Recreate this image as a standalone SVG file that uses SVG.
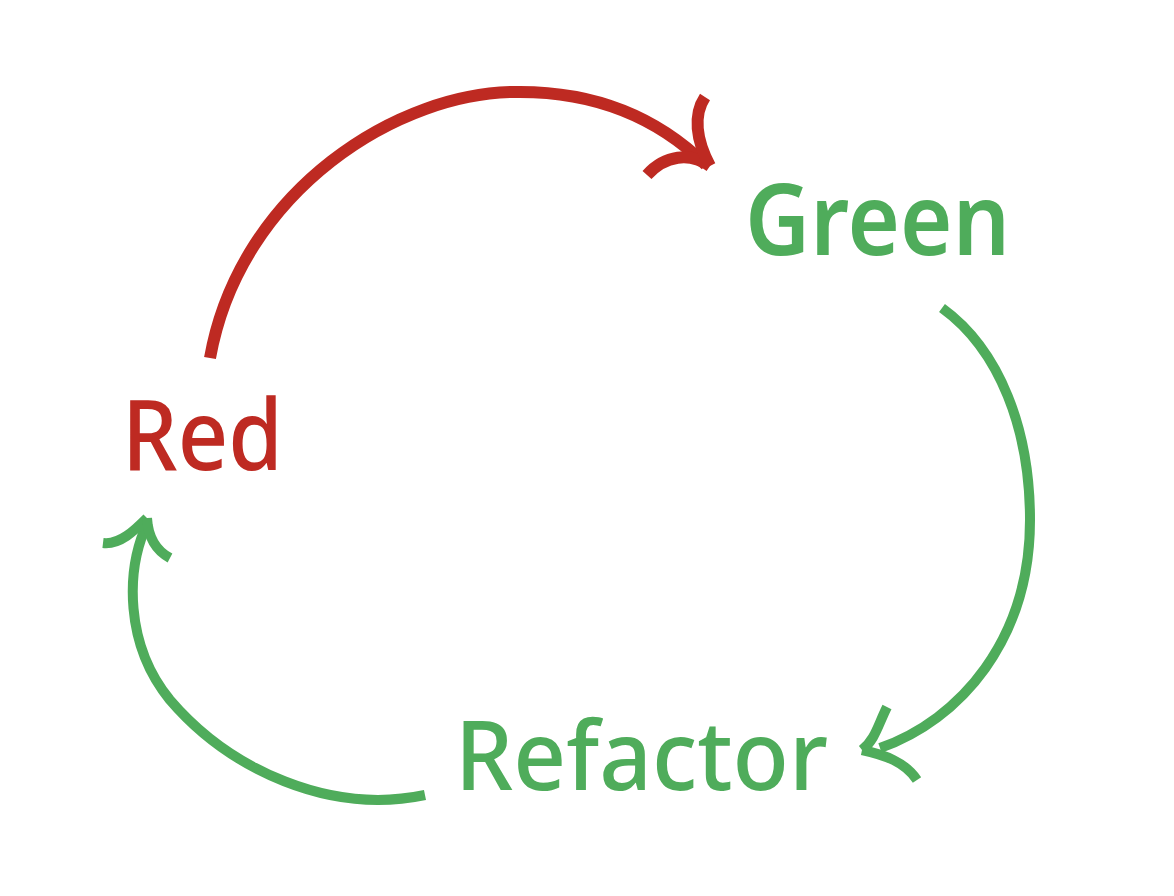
<svg xmlns="http://www.w3.org/2000/svg" width="1174" height="896" viewBox="0 0 1174 896">
<style>
.lbl{font-family:"Noto Sans","Open Sans","DejaVu Sans",sans-serif;}
.red{fill:#BE2A22}
.grn{fill:#4FAC5B}
.sr{fill:none;stroke:#BE2A22;stroke-width:12}
.sg{fill:none;stroke:#4FAC5B;stroke-width:10}
</style>
<rect width="1174" height="896" fill="#ffffff"/>
<g id="connectors">
<g id="red-to-green">
<path class="sr" d="M 210 358 C 240 190, 400 90, 520 92 C 600 92, 660 120, 706 165"/>
<path class="sr" d="M 647 175 C 665 155, 690 152, 710 166"/>
<path class="sr" d="M 705 97 C 693 115, 696 140, 710 166"/>
</g>
<g id="green-to-refactor">
<path class="sg" d="M 942 308 C 1000 350, 1030 430, 1030 520 C 1030 640, 960 720, 880 748"/>
<path class="sg" d="M 887 707 C 878 725, 875 740, 862 750"/>
<path class="sg" d="M 917 780 C 905 762, 885 755, 862 750"/>
</g>
<g id="refactor-to-red">
<path class="sg" d="M 425 795 C 330 815, 230 770, 170 700 C 125 645, 125 570, 148 522"/>
<path class="sg" d="M 103 543 C 120 545, 135 530, 147 518"/>
<path class="sg" d="M 170 558 C 155 550, 148 535, 147 518"/>
</g>
</g>
<g id="node-red"><text class="lbl red" x="122" y="470" font-size="98" font-weight="500" textLength="161" lengthAdjust="spacingAndGlyphs">Red</text></g>
<g id="node-green"><text class="lbl grn" x="745" y="255" font-size="100" font-weight="600" textLength="265" lengthAdjust="spacingAndGlyphs">Green</text></g>
<g id="node-refactor"><text class="lbl grn" x="455" y="790" font-size="96" font-weight="500" textLength="373" lengthAdjust="spacingAndGlyphs">Refactor</text></g>
</svg>
